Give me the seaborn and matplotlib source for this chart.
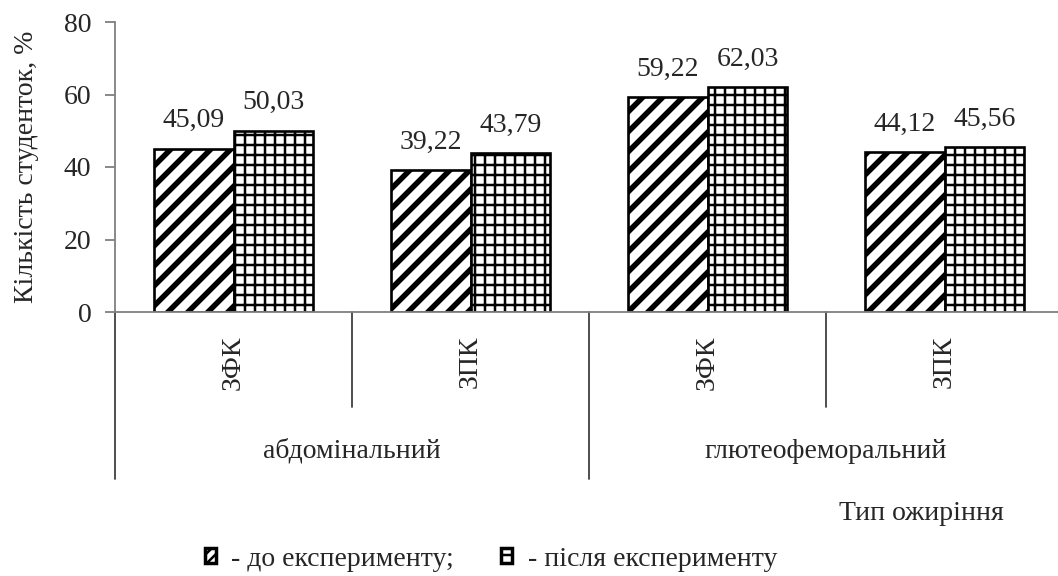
import matplotlib
matplotlib.use("Agg")
import matplotlib.pyplot as plt
import matplotlib.transforms as mtransforms
from matplotlib.patches import Patch
import seaborn as sns
import pandas as pd

# Data
groups = ["абдомінальний", "абдомінальний", "глютеофеморальний", "глютеофеморальний"]
subtypes = ["ЗФК", "ЗПК", "ЗФК", "ЗПК"]
before = [45.09, 39.22, 59.22, 44.12]
after = [50.03, 43.79, 62.03, 45.56]
periods = ["до експерименту", "після експерименту"]
group_names = ["абдомінальний", "глютеофеморальний"]
y_ticks = [0, 20, 40, 60, 80]

W, H, DPI = 1058, 576, 120
S = 100 / DPI  # point sizes below are given for a 100 dpi canvas
FS = 20 * S
TOP, BOTTOM = 22, 312  # axes extent in canvas pixels

sns.set_theme(style="white")
plt.rcParams["font.family"] = ["Liberation Serif", "DejaVu Serif"]
plt.rcParams["hatch.linewidth"] = 1.5

rows = []
for i, s in enumerate(subtypes):
    rows.append({"cat": f"{i}", "sub": s, "period": periods[0], "value": before[i]})
    rows.append({"cat": f"{i}", "sub": s, "period": periods[1], "value": after[i]})
df = pd.DataFrame(rows)

fig = plt.figure(figsize=(W / DPI, H / DPI), dpi=DPI)
ax = fig.add_axes([115 / W, 1 - BOTTOM / H, (1063 - 115) / W, (BOTTOM - TOP) / H])

sns.barplot(data=df, x="cat", y="value", hue="period", hue_order=periods,
            width=0.675, ax=ax, legend=False, saturation=1)

hatches = {periods[0]: "//", periods[1]: "++"}
hatch_lw = {periods[0]: 3.3, periods[1]: 1.5}
for container, per in zip(ax.containers, periods):
    for bar in container:
        bar.set_facecolor("white")
        bar.set_edgecolor("black")
        bar.set_linewidth(1.9 * S)
        bar.set_hatch(hatches[per])
        try:
            bar.set_hatch_linewidth(hatch_lw[per])
        except AttributeError:
            pass
    ax.bar_label(container, labels=[f"{v:.2f}".replace(".", ",") for v in container.datavalues],
                 padding=11 * S, fontsize=FS)

ax.set_ylim(0, 80)
ax.set_xlim(-0.5, 3.5)
ax.set_yticks(y_ticks)
ax.set_yticklabels([str(t) for t in y_ticks], fontsize=FS)
ax.set_xticks([])
ax.set_xlabel("")
ax.set_ylabel("Кількість студенток, %", fontsize=FS, labelpad=18 * S)

for side in ["top", "right"]:
    ax.spines[side].set_visible(False)
for side in ["left", "bottom"]:
    ax.spines[side].set_color("#7f7f7f")
    ax.spines[side].set_linewidth(1.3 * S)
ax.tick_params(axis="y", which="both", left=True, length=7 * S, width=1.3 * S,
               color="#7f7f7f", pad=10 * S, labelsize=FS)

# Two-level category axis: subtype labels, separators and group labels
trans = mtransforms.blended_transform_factory(ax.transData, ax.transAxes)
axes_h = BOTTOM - TOP
for i, s in enumerate(subtypes):
    ax.text(i, -24 / axes_h, s, rotation=90, ha="center", va="top", fontsize=FS,
            transform=trans)
for x, depth in [(-0.5, 167), (0.5, 95), (1.5, 167), (2.5, 95), (3.5, 167)]:
    ax.plot([x, x], [0, -depth / axes_h], color="#404040", lw=1.3 * S,
            transform=trans, clip_on=False)
for j, g in enumerate(group_names):
    ax.text(2 * j + 0.5, -139 / axes_h, g, ha="center", va="center", fontsize=FS,
            transform=trans)

fig.text(1004 / W, 1 - 514 / H, "Тип ожиріння", ha="right", va="center", fontsize=FS)

handles = [Patch(facecolor="white", edgecolor="black", hatch="////", linewidth=2.5 * S),
           Patch(facecolor="white", edgecolor="black", hatch="--", linewidth=2.5 * S)]
fig.legend(handles, ["- до експерименту;", "- після експерименту"],
           loc="center left", bbox_to_anchor=(205 / W, 1 - 559 / H), ncol=2,
           frameon=False, fontsize=FS, handlelength=0.4, handleheight=0.45,
           handletextpad=0.55, columnspacing=1.7, borderaxespad=0, borderpad=0)

fig.savefig("out.png", dpi=DPI)
